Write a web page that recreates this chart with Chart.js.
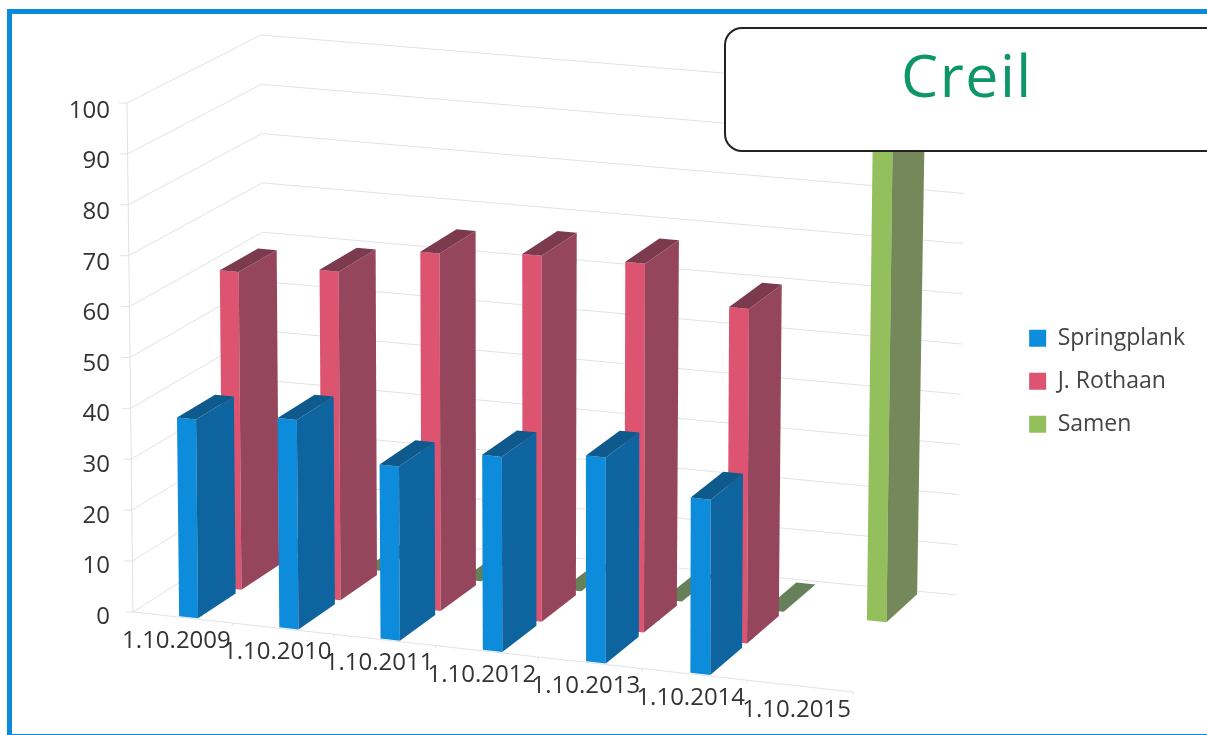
<!DOCTYPE html>
<html>
<head>
<meta charset="utf-8">
<title>Creil</title>
<script src="https://cdn.jsdelivr.net/npm/chart.js@4"></script>
<style>
  html, body { margin: 0; padding: 0; background: #fff; overflow: hidden; }
  #wrap { position: relative; width: 1207px; height: 735px; overflow: hidden; }
  #frame { position: absolute; left: 7px; top: 9px; width: 1300px; height: 720px; border: 5px solid #0a8adb; }
  canvas { position: absolute; left: 0; top: 0; }
  #label { position: absolute; left: 724px; top: 27px; width: 500px; height: 121px; box-sizing: content-box;
    border: 2px solid #222; border-radius: 18px; background: #fff; }
  #label span { position: absolute; left: 175px; width: 126px; top: -3px; text-align: center; letter-spacing: 1.5px;
    font: 59px/96px "Open Sans", sans-serif; color: #0e9668; }
</style>
</head>
<body>
<div id="wrap">
  <div id="frame"></div>
  <canvas id="chart" width="1207" height="735"></canvas>
  <div id="label"><span>Creil</span></div>
</div>
<script>
const categories = ['1.10.2009', '1.10.2010', '1.10.2011', '1.10.2012', '1.10.2013', '1.10.2014', '1.10.2015'];
const springplank = [39, 41, 34, 38, 40, 34, null];
const rothaan = [63, 65, 70.5, 72, 72.4, 65.5, null];
const samen = [0, 0, 0, 0, 0, 0, 100];
const yTicks = [0, 10, 20, 30, 40, 50, 60, 70, 80, 90, 100];

// view of the 3D box: front-left, front-right, back-right, back-left
const floorQuad = [[133, 612], [853, 692], [957, 595], [265, 528]];
const topQuad = [[127, 103], [856, 174], [966, 93], [261, 35]];
const depthStart = [0.01, 0.345, 0.68];
const barDepth = 0.29;
const barShift = 0.0065; // bars sit a little right of the category centre
const gridColor = '#e0e2e9';
const faces = [
  { front: '#0d8cdc', side: '#0e649f', top: '#0f5a8c' },
  { front: '#dc5470', side: '#96465c', top: '#7c3a4e' },
  { front: '#93c05c', side: '#74885a', top: '#66805a' },
];

function bilinear(q, u, t) {
  const [a, b, c, d] = q;
  // slight perspective along the category direction
  const w = u - 0.035 * u * (1 - u);
  return [0, 1].map(k => (a[k] * (1 - w) + b[k] * w) * (1 - t) + (d[k] * (1 - w) + c[k] * w) * t);
}

// u: 0..1 along the categories, t: 0..1 into the depth, v: 0..1 up the value axis
function project(u, t, v) {
  const p = bilinear(floorQuad, u, t), q = bilinear(topQuad, u, t);
  return [p[0] + (q[0] - p[0]) * v, p[1] + (q[1] - p[1]) * v];
}

function poly(ctx, pts, fill) {
  ctx.beginPath();
  pts.forEach((p, i) => i ? ctx.lineTo(p[0], p[1]) : ctx.moveTo(p[0], p[1]));
  ctx.closePath();
  ctx.fillStyle = fill;
  ctx.fill();
}

function line(ctx, a, b, color) {
  ctx.beginPath();
  ctx.moveTo(a[0], a[1]);
  ctx.lineTo(b[0], b[1]);
  ctx.strokeStyle = color;
  ctx.lineWidth = 1;
  ctx.stroke();
}

const box3d = {
  id: 'box3d',
  beforeDatasetsDraw(chart) {
    const { ctx, chartArea: area, scales: { x: xs, y: ys } } = chart;
    const toU = px => (px - area.left) / area.width;
    const toV = py => (area.bottom - py) / area.height;

    // walls
    ys.ticks.forEach(tick => {
      const v = toV(ys.getPixelForValue(tick.value));
      line(ctx, project(0, 0, v), project(0, 1, v), gridColor);
      line(ctx, project(0, 1, v), project(1, 1, v), gridColor);
      const f = project(0, 0, v);
      line(ctx, [f[0] - 8, f[1]], f, gridColor);
    });
    line(ctx, project(0, 0, 0), project(0, 0, 1), gridColor);
    line(ctx, project(0, 0, 0), project(1, 0, 0), gridColor);

    // category ticks and labels sit on the sloping front edge
    const half = xs.getPixelForValue(1) - xs.getPixelForValue(0);
    ctx.font = '24px "Open Sans", sans-serif';
    ctx.textAlign = 'right';
    ctx.textBaseline = 'middle';
    categories.forEach((name, j) => {
      const p = project(toU(xs.getPixelForValue(j) + half / 2), 0, 0);
      line(ctx, p, [p[0], p[1] + 3], gridColor);
      ctx.fillStyle = '#333';
      ctx.fillText(name, p[0] - 2, p[1] + 18);
    });

    // bars, back series first
    for (let i = chart.data.datasets.length - 1; i >= 0; i--) {
      const meta = chart.getDatasetMeta(i);
      const t0 = depthStart[i], t1 = t0 + barDepth;
      meta.data.forEach((el, j) => {
        if (chart.data.datasets[i].data[j] == null) return;
        const u0 = toU(el.x - el.width / 2) + barShift, u1 = toU(el.x + el.width / 2) + barShift;
        const v0 = toV(el.base), v1 = toV(el.y);
        poly(ctx, [project(u0, t0, v0), project(u1, t0, v0), project(u1, t0, v1), project(u0, t0, v1)], faces[i].front);
        poly(ctx, [project(u1, t0, v0), project(u1, t1, v0), project(u1, t1, v1), project(u1, t0, v1)], faces[i].side);
        poly(ctx, [project(u0, t0, v1), project(u1, t0, v1), project(u1, t1, v1), project(u0, t1, v1)], faces[i].top);
      });
    }
  },
  beforeDatasetDraw() { return false; },
};

new Chart(document.getElementById('chart'), {
  type: 'bar',
  plugins: [box3d],
  data: {
    labels: categories,
    datasets: [
      { label: 'Springplank', data: springplank, backgroundColor: faces[0].front },
      { label: 'J. Rothaan', data: rothaan, backgroundColor: faces[1].front },
      { label: 'Samen', data: samen, backgroundColor: faces[2].front },
    ],
  },
  options: {
    responsive: false,
    animation: false,
    devicePixelRatio: 1,
    layout: { padding: { left: 58, right: 12, top: 111, bottom: 118 } },
    datasets: { bar: { grouped: false, barPercentage: 0.19, categoryPercentage: 1 } },
    scales: {
      x: { display: false, offset: true },
      y: {
        min: 0, max: 100,
        afterBuildTicks: s => { s.ticks = yTicks.map(value => ({ value })); },
        afterFit: s => { s.width = 70; },
        grid: { display: false },
        border: { display: false },
        ticks: { padding: 10, color: '#333', font: { family: '"Open Sans", sans-serif', size: 24 } },
      },
    },
    plugins: {
      tooltip: { enabled: false },
      legend: {
        position: 'right',
        title: { display: true, text: '', padding: { top: 20, bottom: 0 } },
        labels: {
          boxWidth: 17, boxHeight: 17, padding: 20, color: '#444',
          font: { family: '"Open Sans", sans-serif', size: 23 },
        },
      },
    },
  },
});
</script>
</body>
</html>
